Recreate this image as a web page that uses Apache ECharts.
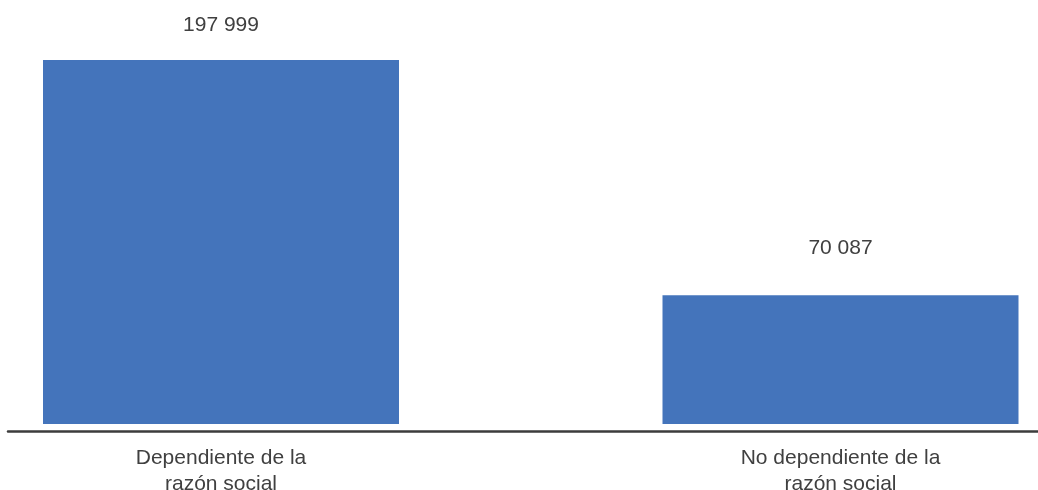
<!DOCTYPE html>
<html>
<head>
<meta charset="utf-8">
<style>html,body{margin:0;padding:0;background:#fff;}#chart{width:1038px;height:490px;}</style>
<script src="https://cdn.jsdelivr.net/npm/echarts@6/dist/echarts.min.js"></script>
</head>
<body>
<div id="chart"></div>
<script>
const categories = ["Dependiente de la\nrazón social", "No dependiente de la\nrazón social"];
const values = [197999, 70087];
const labelDistances = [24, 36];

const chart = echarts.init(document.getElementById('chart'), null, {renderer: 'canvas'});
const fmt = v => String(v).replace(/\B(?=(\d{3})+(?!\d))/g, ' ');
chart.setOption({
  animation: false,
  backgroundColor: '#ffffff',
  grid: [
    {left: -88.75, right: -112.25, top: 56.3, bottom: 66, containLabel: false, outerBoundsMode: 'none'},
    {left: 8, right: 0, bottom: 58.5, height: 1, containLabel: false, outerBoundsMode: 'none'}
  ],
  xAxis: [
    {
      type: 'category', gridIndex: 0, data: categories, offset: 7,
      axisLine: {show: false}, axisTick: {show: false},
      axisLabel: {color: '#404040', fontSize: 21, fontFamily: 'Liberation Sans, Arial, sans-serif', lineHeight: 26, margin: 14}
    },
    {
      type: 'value', gridIndex: 1, min: 0, max: 1, position: 'bottom',
      axisLine: {show: true, lineStyle: {color: '#3c3c3c', width: 2.5}},
      axisTick: {show: false}, axisLabel: {show: false}, splitLine: {show: false}
    }
  ],
  yAxis: [
    {type: 'value', gridIndex: 0, min: 0, max: 200000, show: false, splitLine: {show: false}},
    {type: 'value', gridIndex: 1, min: 0, max: 1, show: false, splitLine: {show: false}}
  ],
  series: [{
    type: 'bar', xAxisIndex: 0, yAxisIndex: 0,
    barWidth: 356,
    itemStyle: {color: '#4474bb'},
    data: values.map((v, i) => ({value: v, label: {distance: labelDistances[i]}})),
    label: {
      show: true, position: 'top', formatter: p => fmt(p.value),
      color: '#404040', fontSize: 21, fontFamily: 'Liberation Sans, Arial, sans-serif'
    }
  }]
});
</script>
</body>
</html>
